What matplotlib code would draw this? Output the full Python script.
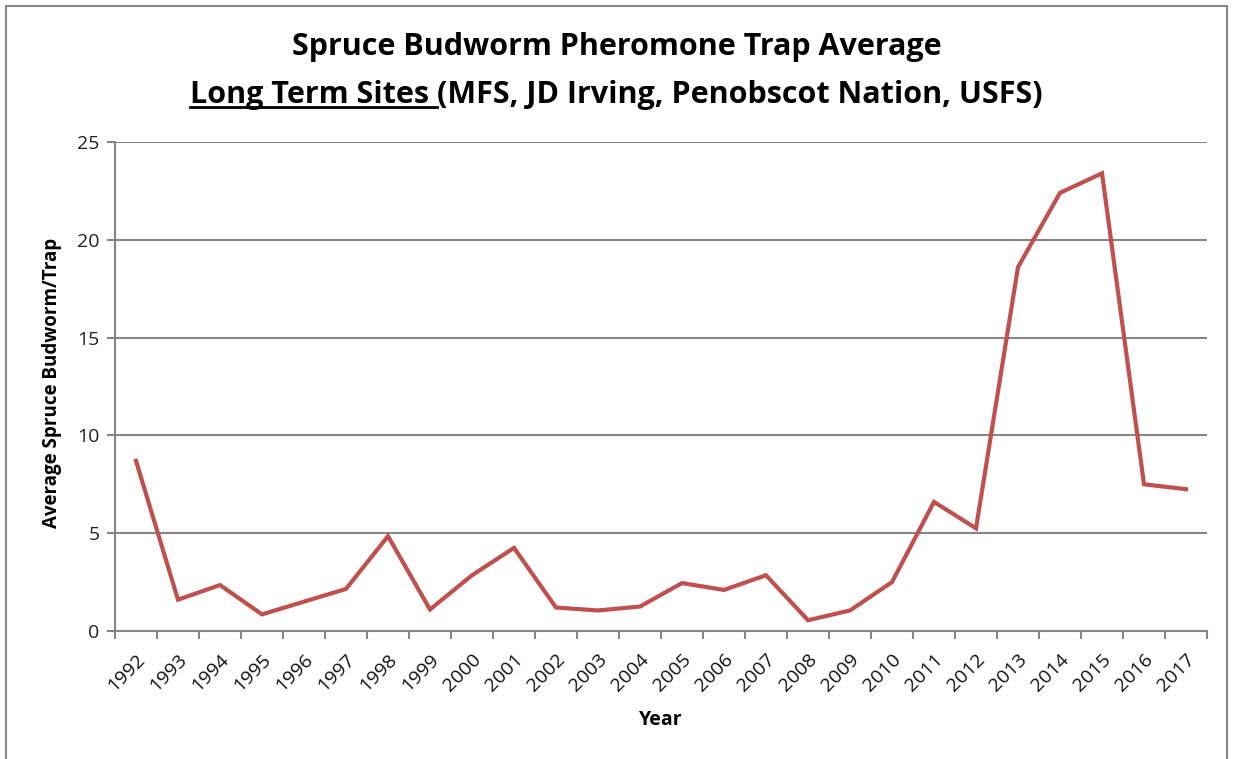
import numpy as np
import matplotlib.pyplot as plt
from matplotlib.patches import Rectangle
from matplotlib.lines import Line2D

years = [str(y) for y in range(1992, 2018)]
avg_per_trap = [8.7, 1.6, 2.35, 0.85, 1.5, 2.15, 4.85, 1.1, 2.85, 4.25,
                1.2, 1.05, 1.25, 2.45, 2.1, 2.85, 0.55, 1.05, 2.5, 6.6,
                5.25, 18.6, 22.4, 23.4, 7.5, 7.25]
y_ticks = [0, 5, 10, 15, 20, 25]

W, H = 1233, 759
grid_col = '#868686'
font = 'Open Sans'

fig = plt.figure(figsize=(W / 100, H / 100), dpi=100)
fig.patches.append(Rectangle((6 / W, -0.01), (1227 - 6) / W, 1.01 - 6 / H,
                             transform=fig.transFigure, fill=False,
                             edgecolor=grid_col, linewidth=1.5))

ax = fig.add_axes([115 / W, 1 - 631 / H, (1207 - 115) / W, (631 - 142) / H])
x = np.arange(len(years))
ax.plot(x, avg_per_trap, color='#C0504D', linewidth=3, solid_joinstyle='miter')

ax.set_xlim(-0.5, len(years) - 0.5)
ax.set_ylim(0, 25)
ax.set_yticks(y_ticks)
ax.set_yticklabels([str(v) for v in y_ticks], fontsize=14, family=font, color='#222222')
ax.yaxis.grid(True, color=grid_col, linewidth=1.5)
ax.set_axisbelow(True)

ax.set_xticks(x)
ax.set_xticklabels(years, rotation=45, ha='right', rotation_mode='anchor',
                   fontsize=14, family=font, color='#111111')
ax.set_xticks(np.arange(-0.5, len(years)), minor=True)
ax.tick_params(axis='x', which='major', length=0, pad=14)
ax.tick_params(axis='x', which='minor', length=6, color=grid_col, width=1.5)
ax.tick_params(axis='y', length=6, color=grid_col, width=1.5, pad=5)

for s in ['top', 'right']:
    ax.spines[s].set_visible(False)
for s in ['left', 'bottom']:
    ax.spines[s].set_color(grid_col)
    ax.spines[s].set_linewidth(1.5)

fig.text(52 / W, 1 - 383 / H, 'Average Spruce Budworm/Trap', rotation=90,
         ha='center', va='center', fontsize=13.5, fontweight='bold', family=font)
fig.text(661 / W, 1 - 720 / H, 'Year', ha='center', va='center',
         fontsize=14, fontweight='bold', family=font)

# title, second line partly underlined
fig.text(0.5, 1 - 47 / H, 'Spruce Budworm Pheromone Trap Average', ha='center',
         va='center', fontsize=22, fontweight='bold', family=font)
part1 = 'Long Term Sites '
part2 = '(MFS, JD Irving, Penobscot Nation, USFS)'
ty = 1 - 95 / H
t_full = fig.text(0.5, ty, part1 + part2, ha='center', va='center', fontsize=22,
                  fontweight='bold', family=font, alpha=0)
r = fig.canvas.get_renderer()
bb_full = t_full.get_window_extent(r)
t1 = fig.text(bb_full.x0 / W, ty, part1, ha='left', va='center', fontsize=22,
              fontweight='bold', family=font)
bb1 = t1.get_window_extent(r)
t2 = fig.text(bb1.x1 / W, ty, part2, ha='left', va='center', fontsize=22,
              fontweight='bold', family=font)
uy = (bb1.y0 + 3) / H
fig.lines.append(Line2D([bb1.x0 / W, bb1.x1 / W], [uy, uy], transform=fig.transFigure,
                        color='black', linewidth=2))

fig.savefig('out.png', dpi=100)
